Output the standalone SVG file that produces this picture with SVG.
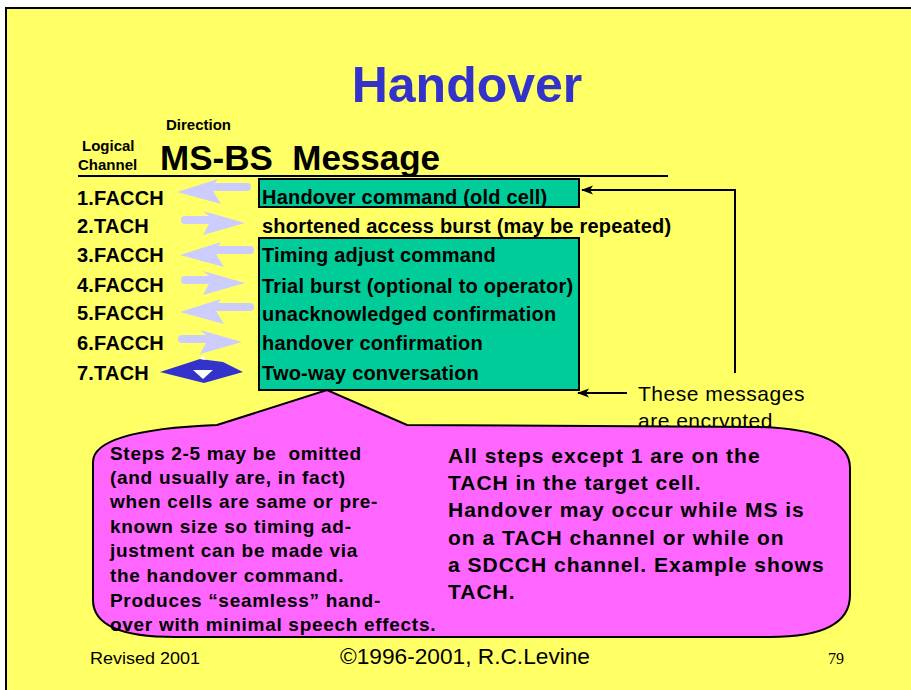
<svg xmlns="http://www.w3.org/2000/svg" width="911" height="690" viewBox="0 0 911 690">
  <style>
    .b { font-family: "Liberation Sans", Arial, sans-serif; font-weight: bold; fill: #000; }
    .r { font-family: "Liberation Sans", Arial, sans-serif; fill: #000; }
    .row { font-size: 20px; letter-spacing: 0.2px; }
    .msg { font-size: 20px; letter-spacing: 0.2px; }
    .box { fill: #00CC99; stroke: #000; stroke-width: 2; }
    .lav { fill: #CCCCFF; }
    .note1 { font-size: 19px; letter-spacing: 0.7px; }
    .note2 { font-size: 21px; letter-spacing: 1px; }
    .conn { fill: none; stroke: #000; stroke-width: 2; }
  </style>
  <defs>
    <marker id="barb" viewBox="0 -5 12 10" refX="11" refY="0" markerWidth="12" markerHeight="10" markerUnits="userSpaceOnUse" orient="auto">
      <path d="M0,-4.5 L12,0 L0,4.5 L3,0 Z" fill="#000"/>
    </marker>
    <!-- lavender direction arrows, tip at origin -->
    <path id="arrowL" class="lav" d="M0,0 L41,-13 L38,-9 L70,-9 A4,4 0 0 1 70,-1 L36,-1 L44,12 Z"/>
    <path id="arrowR" class="lav" d="M0,0 L-42,-12 L-36,-7 L-60,-7 A4,4 0 0 0 -60,1 L-36,1 L-42,12 Z"/>
  </defs>

  <!-- page -->
  <rect x="0" y="0" width="911" height="690" fill="#fff"/>
  <rect x="6" y="8" width="930" height="700" fill="#FFFF66" stroke="#000" stroke-width="2"/>

  <!-- title and header -->
  <g id="title">
    <text x="467" y="102" text-anchor="middle" font-family="Liberation Sans, Arial, sans-serif" font-weight="bold" font-size="50" fill="#3333CC">Handover</text>
  </g>
  <g id="header">
    <text class="b" x="166" y="130" font-size="15">Direction</text>
    <text class="b" x="82" y="151" font-size="15">Logical</text>
    <text class="b" x="78" y="170" font-size="15">Channel</text>
    <text class="b" x="160" y="170" font-size="35" xml:space="preserve">MS-BS  Message</text>
    <line x1="78" y1="176" x2="668" y2="176" stroke="#000" stroke-width="2"/>
  </g>

  <!-- logical channel labels -->
  <g id="channels">
    <text class="b row" x="77" y="205">1.FACCH</text>
    <text class="b row" x="77" y="233">2.TACH</text>
    <text class="b row" x="77" y="262">3.FACCH</text>
    <text class="b row" x="77" y="292">4.FACCH</text>
    <text class="b row" x="77" y="320">5.FACCH</text>
    <text class="b row" x="77" y="350">6.FACCH</text>
    <text class="b row" x="77" y="380">7.TACH</text>
  </g>

  <!-- direction arrows -->
  <g id="directions">
    <use href="#arrowL" x="177" y="192"/>
    <use href="#arrowR" x="245" y="223"/>
    <use href="#arrowL" x="180" y="255"/>
    <use href="#arrowR" x="245" y="283"/>
    <use href="#arrowL" x="180" y="312"/>
    <use href="#arrowR" x="242" y="342"/>
    <g id="two-way">
      <polygon points="160,372 200,359 223,362 243,372 204,383" fill="#3333CC"/>
      <polygon points="193,370 213,370 203,379" fill="#fff"/>
      <polygon points="200,359 203,355 206,360" fill="#fff"/>
    </g>
  </g>

  <!-- message boxes -->
  <g id="msg-old-cell">
    <rect class="box" x="259" y="179" width="320" height="28"/>
    <text class="b msg" x="262" y="204">Handover command (old cell)</text>
  </g>
  <g id="msg-access">
    <text class="b msg" x="262" y="233">shortened access burst (may be repeated)</text>
  </g>
  <g id="msg-new-cell">
    <rect class="box" x="259" y="238" width="320" height="152"/>
    <text class="b msg" x="262" y="262">Timing adjust command</text>
    <text class="b msg" x="262" y="293">Trial burst (optional to operator)</text>
    <text class="b msg" x="262" y="321">unacknowledged confirmation</text>
    <text class="b msg" x="262" y="350">handover confirmation</text>
    <text class="b msg" x="262" y="380">Two-way conversation</text>
  </g>

  <!-- encryption note -->
  <g id="encrypted-note">
    <text class="r" x="638" y="401" font-size="21" letter-spacing="0.5">These messages</text>
    <text class="r" x="638" y="428" font-size="21" letter-spacing="0.5">are encrypted</text>
  </g>

  <!-- connectors -->
  <g id="connectors">
    <path class="conn" d="M735,373 V190 H582" marker-end="url(#barb)"/>
    <path class="conn" d="M627,393 H578" marker-end="url(#barb)"/>
  </g>

  <!-- callout -->
  <g id="callout">
    <path d="M217,425 L327,390 L407,425 L760,427 Q850,430 850,468 L850,595 Q850,637 770,637 L175,637 Q93,637 93,600 L93,462 Q93,430 217,425 Z" fill="#FF66FF" stroke="#000" stroke-width="2"/>
    <text class="b note1" x="110" y="460" xml:space="preserve">Steps 2-5 may be  omitted</text>
    <text class="b note1" x="110" y="484">(and usually are, in fact)</text>
    <text class="b note1" x="110" y="508">when cells are same or pre-</text>
    <text class="b note1" x="110" y="533">known size so timing ad-</text>
    <text class="b note1" x="110" y="557">justment can be made via</text>
    <text class="b note1" x="110" y="582">the handover command.</text>
    <text class="b note1" x="110" y="607">Produces “seamless” hand-</text>
    <text class="b note1" x="110" y="631">over with minimal speech effects.</text>
    <text class="b note2" x="448" y="463">All steps except 1 are on the</text>
    <text class="b note2" x="448" y="490">TACH in the target cell.</text>
    <text class="b note2" x="448" y="517">Handover may occur while MS is</text>
    <text class="b note2" x="448" y="545">on a TACH channel or while on</text>
    <text class="b note2" x="448" y="572">a SDCCH channel. Example shows</text>
    <text class="b note2" x="448" y="599">TACH.</text>
  </g>

  <!-- footer -->
  <g id="footer">
    <text class="r" x="90" y="664" font-size="17" textLength="110" lengthAdjust="spacingAndGlyphs">Revised 2001</text>
    <text class="r" x="340" y="664" font-size="22" textLength="250" lengthAdjust="spacingAndGlyphs">©1996-2001, R.C.Levine</text>
    <text x="828" y="664" font-family="Liberation Serif, Times New Roman, serif" font-size="16" fill="#000">79</text>
  </g>
</svg>
